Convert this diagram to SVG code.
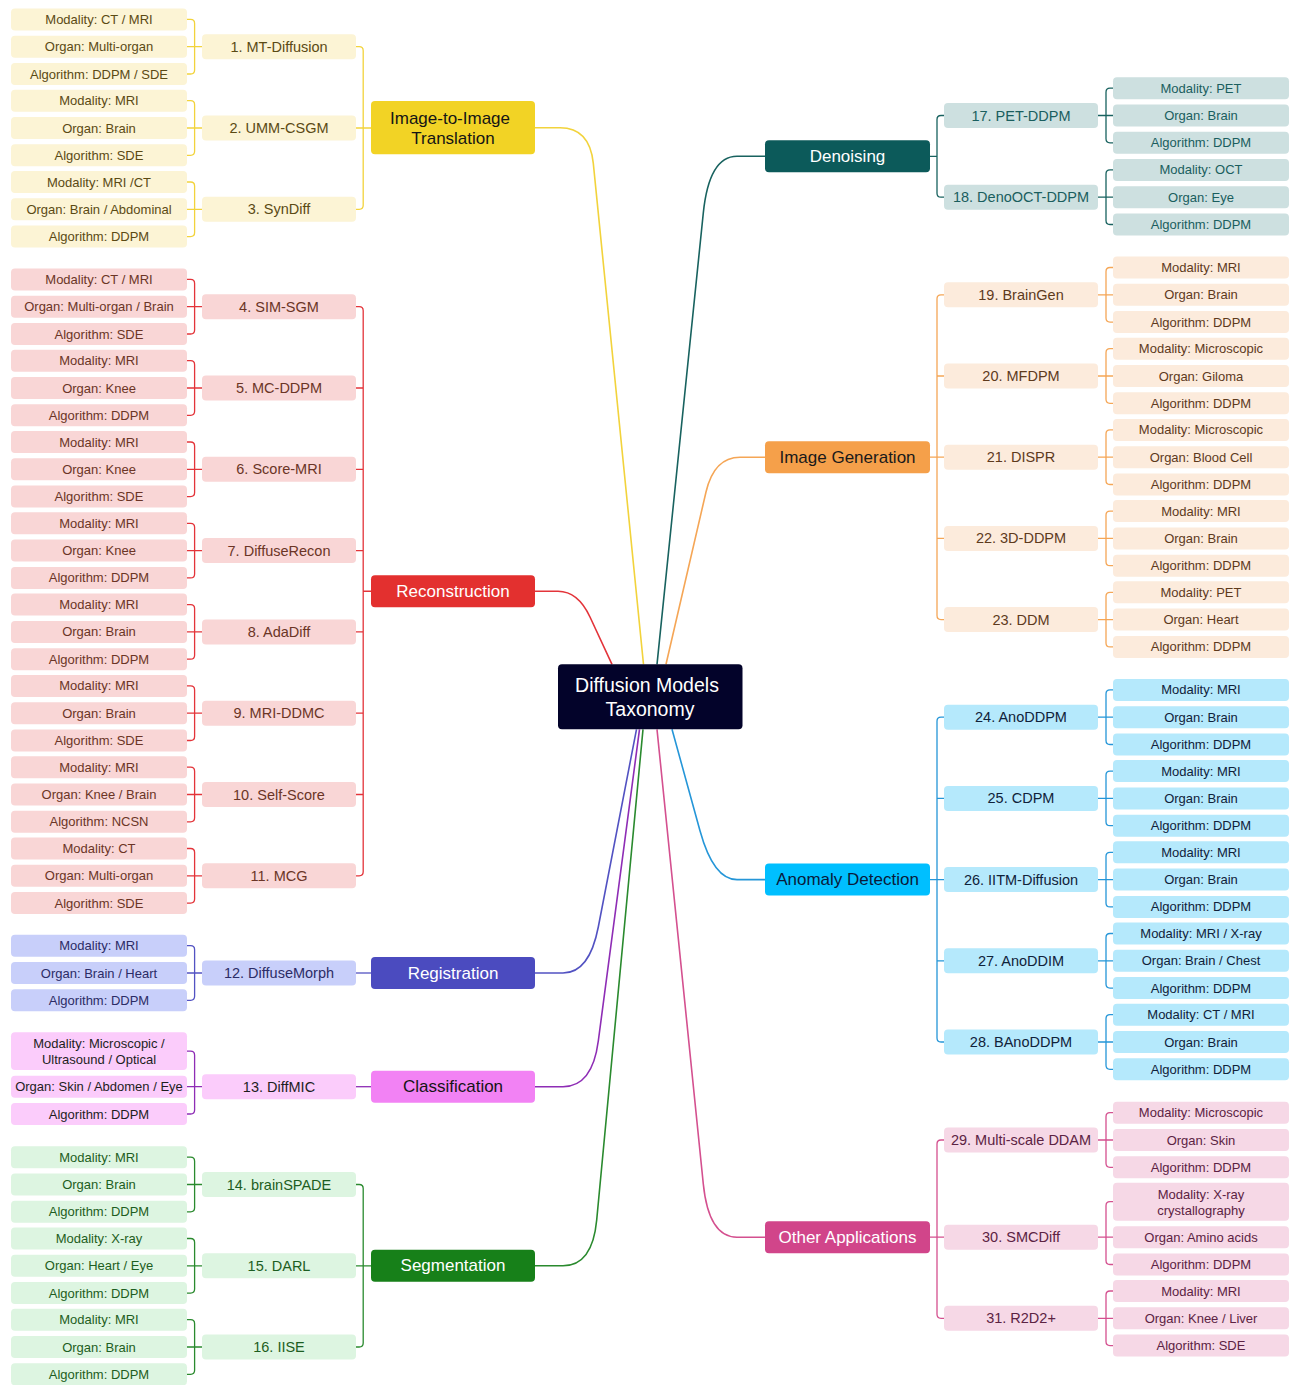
<svg xmlns="http://www.w3.org/2000/svg" width="1294" height="1385" viewBox="0 0 1294 1385">
<style>
text{font-family:"Liberation Sans",Arial,sans-serif;text-anchor:middle;dominant-baseline:central}
.lf text{font-size:13px}
.md text{font-size:14.5px}
.ct text{font-size:17px}
.cn text{font-size:19.5px;fill:#fff}
.cn rect{fill:#03032A}
.c path{fill:none;stroke-width:1.3}
.c .main path{stroke-width:1.6}
.y rect{fill:#FCF4D5}.y text{fill:#5B4A14}.ct.y rect{fill:#F2D325}.ct.y text{fill:#151515}
.r rect{fill:#F9D6D6}.r text{fill:#6B3526}.ct.r rect{fill:#E3302F}.ct.r text{fill:#fff}
.b rect{fill:#C8CFFA}.b text{fill:#2C2C66}.ct.b rect{fill:#4B4BBF}.ct.b text{fill:#fff}
.p rect{fill:#FBCCFB}.p text{fill:#1E1E1E}.ct.p rect{fill:#F282F4}.ct.p text{fill:#151515}
.g rect{fill:#DDF5E1}.g text{fill:#1D5E22}.ct.g rect{fill:#178019}.ct.g text{fill:#fff}
.t rect{fill:#CDE0E0}.t text{fill:#1A5E5E}.ct.t rect{fill:#0C5A5A}.ct.t text{fill:#fff}
.o rect{fill:#FCEBDC}.o text{fill:#5E3A1C}.ct.o rect{fill:#F5A04A}.ct.o text{fill:#1A1A1A}
.a rect{fill:#B5E9FC}.a text{fill:#10223A}.ct.a rect{fill:#00BFFF}.ct.a text{fill:#0A1A3A}
.k rect{fill:#F6D8E6}.k text{fill:#5C2343}.ct.k rect{fill:#D1458A}.ct.k text{fill:#fff}
.sy{stroke:#F2D33C}.sr{stroke:#E3343A}.sb{stroke:#5252C2}.sp{stroke:#8E2DB5}.sg{stroke:#2A8A2E}
.st{stroke:#18625F}.so{stroke:#F5A656}.sa{stroke:#2596D8}.sk{stroke:#D4508F}
</style>

<g id="connectors" class="c">
 <g class="main">
  <path class="sy" d="M535,127.7H560Q589.7,127.7 593.3,163.3L643.5,664.3"/>
  <path class="sr" d="M535,591.25H558Q578,591.25 590,617L612,664.3"/>
  <path class="sb" d="M535,973H563Q589.4,973 598.3,927L636.5,729.3"/>
  <path class="sp" d="M535,1086.7H563Q592.3,1086.7 598.3,1041L639.5,729.3"/>
  <path class="sg" d="M535,1265.8H563Q592.4,1265.8 596.7,1220L643,729.3"/>
  <path class="st" d="M765,156.3H737Q709.1,156.3 703.3,213L657,664.3"/>
  <path class="so" d="M765,457.2H740Q714.1,457.2 706,492L666,664.3"/>
  <path class="sa" d="M765,879.6H737Q713.5,879.6 700,830.7L672,729.3"/>
  <path class="sk" d="M765,1237.2H737Q708.7,1237.2 703.3,1184L657,729.3"/>
 </g>
 <path class="sy" d="M356,46.7H359.2Q363.2,46.7 363.2,50.7V205.3Q363.2,209.3 359.2,209.3H356M356,128H371"/>
 <path class="sr" d="M356,306.7H359.2Q363.2,306.7 363.2,310.7V871.8Q363.2,875.8 359.2,875.8H356M356,388H363.2M356,469.3H363.2M356,550.6H363.2M356,631.9H363.2M356,713.2H363.2M356,794.5H363.2M363.2,591.25H371"/>
 <path class="sb" d="M356,973H371"/>
 <path class="sp" d="M356,1086.7H371"/>
 <path class="sg" d="M356,1184.5H359.2Q363.2,1184.5 363.2,1188.5V1343Q363.2,1347 359.2,1347H356M356,1265.8H371"/>
 <path class="st" d="M944,115.5H941Q937,115.5 937,119.5V193.2Q937,197.2 941,197.2H944M930,156.3H937"/>
 <path class="so" d="M944,294.8H941Q937,294.8 937,298.8V615.6Q937,619.6 941,619.6H944M937,376H944M937,538.4H944M930,457.2H944"/>
 <path class="sa" d="M944,717.2H941Q937,717.2 937,721.2V1038Q937,1042 941,1042H944M937,798.4H944M937,960.8H944M930,879.6H944"/>
 <path class="sk" d="M944,1140H941Q937,1140 937,1144V1314.3Q937,1318.3 941,1318.3H944M930,1237.2H944"/>
 <path class="sy" d="M187,19.4H190.6Q194.6,19.4 194.6,23.4V70Q194.6,74 190.6,74H187M187,46.7H202"/>
 <path class="sy" d="M187,100.7H190.6Q194.6,100.7 194.6,104.7V151.3Q194.6,155.3 190.6,155.3H187M187,128H202"/>
 <path class="sy" d="M187,182H190.6Q194.6,182 194.6,186V232.6Q194.6,236.6 190.6,236.6H187M187,209.3H202"/>
 <path class="sr" d="M187,279.4H190.6Q194.6,279.4 194.6,283.4V330Q194.6,334 190.6,334H187M187,306.7H202"/>
 <path class="sr" d="M187,360.7H190.6Q194.6,360.7 194.6,364.7V411.3Q194.6,415.3 190.6,415.3H187M187,388H202"/>
 <path class="sr" d="M187,442H190.6Q194.6,442 194.6,446V492.6Q194.6,496.6 190.6,496.6H187M187,469.3H202"/>
 <path class="sr" d="M187,523.3H190.6Q194.6,523.3 194.6,527.3V573.9Q194.6,577.9 190.6,577.9H187M187,550.6H202"/>
 <path class="sr" d="M187,604.6H190.6Q194.6,604.6 194.6,608.6V655.2Q194.6,659.2 190.6,659.2H187M187,631.9H202"/>
 <path class="sr" d="M187,685.9H190.6Q194.6,685.9 194.6,689.9V736.5Q194.6,740.5 190.6,740.5H187M187,713.2H202"/>
 <path class="sr" d="M187,767.2H190.6Q194.6,767.2 194.6,771.2V817.8Q194.6,821.8 190.6,821.8H187M187,794.5H202"/>
 <path class="sr" d="M187,848.5H190.6Q194.6,848.5 194.6,852.5V899.1Q194.6,903.1 190.6,903.1H187M187,875.8H202"/>
 <path class="sb" d="M187,945.7H190.6Q194.6,945.7 194.6,949.7V996.3Q194.6,1000.3 190.6,1000.3H187M187,973H202"/>
 <path class="sp" d="M187,1051.2H190.6Q194.6,1051.2 194.6,1055.2V1110Q194.6,1114 190.6,1114H187M187,1086.7H202"/>
 <path class="sg" d="M187,1157.2H190.6Q194.6,1157.2 194.6,1161.2V1207.8Q194.6,1211.8 190.6,1211.8H187M187,1184.5H202"/>
 <path class="sg" d="M187,1238.5H190.6Q194.6,1238.5 194.6,1242.5V1289.1Q194.6,1293.1 190.6,1293.1H187M187,1265.8H202"/>
 <path class="sg" d="M187,1319.7H190.6Q194.6,1319.7 194.6,1323.7V1370.3Q194.6,1374.3 190.6,1374.3H187M187,1347H202"/>
 <path class="st" d="M1113,88.2H1110Q1106,88.2 1106,92.2V138.8Q1106,142.8 1110,142.8H1113M1098,115.5H1113"/>
 <path class="st" d="M1113,169.9H1110Q1106,169.9 1106,173.9V220.5Q1106,224.5 1110,224.5H1113M1098,197.2H1113"/>
 <path class="so" d="M1113,267.5H1110Q1106,267.5 1106,271.5V318.1Q1106,322.1 1110,322.1H1113M1098,294.8H1113"/>
 <path class="so" d="M1113,348.7H1110Q1106,348.7 1106,352.7V399.3Q1106,403.3 1110,403.3H1113M1098,376H1113"/>
 <path class="so" d="M1113,429.9H1110Q1106,429.9 1106,433.9V480.5Q1106,484.5 1110,484.5H1113M1098,457.2H1113"/>
 <path class="so" d="M1113,511.1H1110Q1106,511.1 1106,515.1V561.7Q1106,565.7 1110,565.7H1113M1098,538.4H1113"/>
 <path class="so" d="M1113,592.3H1110Q1106,592.3 1106,596.3V642.9Q1106,646.9 1110,646.9H1113M1098,619.6H1113"/>
 <path class="sa" d="M1113,689.9H1110Q1106,689.9 1106,693.9V740.5Q1106,744.5 1110,744.5H1113M1098,717.2H1113"/>
 <path class="sa" d="M1113,771.1H1110Q1106,771.1 1106,775.1V821.7Q1106,825.7 1110,825.7H1113M1098,798.4H1113"/>
 <path class="sa" d="M1113,852.3H1110Q1106,852.3 1106,856.3V902.9Q1106,906.9 1110,906.9H1113M1098,879.6H1113"/>
 <path class="sa" d="M1113,933.5H1110Q1106,933.5 1106,937.5V984.1Q1106,988.1 1110,988.1H1113M1098,960.8H1113"/>
 <path class="sa" d="M1113,1014.7H1110Q1106,1014.7 1106,1018.7V1065.3Q1106,1069.3 1110,1069.3H1113M1098,1042H1113"/>
 <path class="sk" d="M1113,1112.7H1110Q1106,1112.7 1106,1116.7V1163.3Q1106,1167.3 1110,1167.3H1113M1098,1140H1113"/>
 <path class="sk" d="M1113,1201.7H1110Q1106,1201.7 1106,1205.7V1260.5Q1106,1264.5 1110,1264.5H1113M1098,1237.2H1113"/>
 <path class="sk" d="M1113,1291H1110Q1106,1291 1106,1295V1341.6Q1106,1345.6 1110,1345.6H1113M1098,1318.3H1113"/>
</g>

<g id="center" class="cn"><rect x="558" y="664.3" width="184.5" height="65" rx="4"/><text x="647" y="684.5">Diffusion Models</text><text x="650" y="708.5">Taxonomy</text></g>

<!-- categories -->
<g id="cat-i2i" class="ct y"><rect x="371" y="101" width="164" height="53.3" rx="4"/><text x="450" y="118">Image-to-Image</text><text x="453" y="138">Translation</text></g>
<g id="cat-recon" class="ct r"><rect x="371" y="575.25" width="164" height="32" rx="4"/><text x="453" y="591.25">Reconstruction</text></g>
<g id="cat-reg" class="ct b"><rect x="371" y="957" width="164" height="32" rx="4"/><text x="453" y="973">Registration</text></g>
<g id="cat-cls" class="ct p"><rect x="371" y="1070.7" width="164" height="32" rx="4"/><text x="453" y="1086.7">Classification</text></g>
<g id="cat-seg" class="ct g"><rect x="371" y="1249.8" width="164" height="32" rx="4"/><text x="453" y="1265.8">Segmentation</text></g>
<g id="cat-den" class="ct t"><rect x="765" y="140.3" width="165" height="32" rx="4"/><text x="847.5" y="156.3">Denoising</text></g>
<g id="cat-gen" class="ct o"><rect x="765" y="441.2" width="165" height="32" rx="4"/><text x="847.5" y="457.2">Image Generation</text></g>
<g id="cat-ano" class="ct a"><rect x="765" y="863.6" width="165" height="32" rx="4"/><text x="847.5" y="879.6">Anomaly Detection</text></g>
<g id="cat-oth" class="ct k"><rect x="765" y="1221.2" width="165" height="32" rx="4"/><text x="847.5" y="1237.2">Other Applications</text></g>

<!-- left methods -->
<g id="m1" class="md y"><rect x="202" y="34.2" width="154" height="25" rx="4"/><text x="279" y="46.7">1. MT-Diffusion</text></g>
<g id="m2" class="md y"><rect x="202" y="115.5" width="154" height="25" rx="4"/><text x="279" y="128">2. UMM-CSGM</text></g>
<g id="m3" class="md y"><rect x="202" y="196.8" width="154" height="25" rx="4"/><text x="279" y="209.3">3. SynDiff</text></g>
<g id="m4" class="md r"><rect x="202" y="294.2" width="154" height="25" rx="4"/><text x="279" y="306.7">4. SIM-SGM</text></g>
<g id="m5" class="md r"><rect x="202" y="375.5" width="154" height="25" rx="4"/><text x="279" y="388">5. MC-DDPM</text></g>
<g id="m6" class="md r"><rect x="202" y="456.8" width="154" height="25" rx="4"/><text x="279" y="469.3">6. Score-MRI</text></g>
<g id="m7" class="md r"><rect x="202" y="538.1" width="154" height="25" rx="4"/><text x="279" y="550.6">7. DiffuseRecon</text></g>
<g id="m8" class="md r"><rect x="202" y="619.4" width="154" height="25" rx="4"/><text x="279" y="631.9">8. AdaDiff</text></g>
<g id="m9" class="md r"><rect x="202" y="700.7" width="154" height="25" rx="4"/><text x="279" y="713.2">9. MRI-DDMC</text></g>
<g id="m10" class="md r"><rect x="202" y="782" width="154" height="25" rx="4"/><text x="279" y="794.5">10. Self-Score</text></g>
<g id="m11" class="md r"><rect x="202" y="863.3" width="154" height="25" rx="4"/><text x="279" y="875.8">11. MCG</text></g>
<g id="m12" class="md b"><rect x="202" y="960.5" width="154" height="25" rx="4"/><text x="279" y="973">12. DiffuseMorph</text></g>
<g id="m13" class="md p"><rect x="202" y="1074.2" width="154" height="25" rx="4"/><text x="279" y="1086.7">13. DiffMIC</text></g>
<g id="m14" class="md g"><rect x="202" y="1172" width="154" height="25" rx="4"/><text x="279" y="1184.5">14. brainSPADE</text></g>
<g id="m15" class="md g"><rect x="202" y="1253.3" width="154" height="25" rx="4"/><text x="279" y="1265.8">15. DARL</text></g>
<g id="m16" class="md g"><rect x="202" y="1334.5" width="154" height="25" rx="4"/><text x="279" y="1347">16. IISE</text></g>

<!-- right methods -->
<g id="m17" class="md t"><rect x="944" y="103" width="154" height="25" rx="4"/><text x="1021" y="115.5">17. PET-DDPM</text></g>
<g id="m18" class="md t"><rect x="944" y="184.7" width="154" height="25" rx="4"/><text x="1021" y="197.2">18. DenoOCT-DDPM</text></g>
<g id="m19" class="md o"><rect x="944" y="282.3" width="154" height="25" rx="4"/><text x="1021" y="294.8">19. BrainGen</text></g>
<g id="m20" class="md o"><rect x="944" y="363.5" width="154" height="25" rx="4"/><text x="1021" y="376">20. MFDPM</text></g>
<g id="m21" class="md o"><rect x="944" y="444.7" width="154" height="25" rx="4"/><text x="1021" y="457.2">21. DISPR</text></g>
<g id="m22" class="md o"><rect x="944" y="525.9" width="154" height="25" rx="4"/><text x="1021" y="538.4">22. 3D-DDPM</text></g>
<g id="m23" class="md o"><rect x="944" y="607.1" width="154" height="25" rx="4"/><text x="1021" y="619.6">23. DDM</text></g>
<g id="m24" class="md a"><rect x="944" y="704.7" width="154" height="25" rx="4"/><text x="1021" y="717.2">24. AnoDDPM</text></g>
<g id="m25" class="md a"><rect x="944" y="785.9" width="154" height="25" rx="4"/><text x="1021" y="798.4">25. CDPM</text></g>
<g id="m26" class="md a"><rect x="944" y="867.1" width="154" height="25" rx="4"/><text x="1021" y="879.6">26. IITM-Diffusion</text></g>
<g id="m27" class="md a"><rect x="944" y="948.3" width="154" height="25" rx="4"/><text x="1021" y="960.8">27. AnoDDIM</text></g>
<g id="m28" class="md a"><rect x="944" y="1029.5" width="154" height="25" rx="4"/><text x="1021" y="1042">28. BAnoDDPM</text></g>
<g id="m29" class="md k"><rect x="944" y="1127.5" width="154" height="25" rx="4"/><text x="1021" y="1140">29. Multi-scale DDAM</text></g>
<g id="m30" class="md k"><rect x="944" y="1224.7" width="154" height="25" rx="4"/><text x="1021" y="1237.2">30. SMCDiff</text></g>
<g id="m31" class="md k"><rect x="944" y="1305.8" width="154" height="25" rx="4"/><text x="1021" y="1318.3">31. R2D2+</text></g>

<!-- left leaves -->
<g id="l1a" class="lf y"><rect x="11" y="8.4" width="176" height="22" rx="4"/><text x="99" y="19.4">Modality: CT / MRI</text></g>
<g id="l1b" class="lf y"><rect x="11" y="35.7" width="176" height="22" rx="4"/><text x="99" y="46.7">Organ: Multi-organ</text></g>
<g id="l1c" class="lf y"><rect x="11" y="63" width="176" height="22" rx="4"/><text x="99" y="74">Algorithm: DDPM / SDE</text></g>
<g id="l2a" class="lf y"><rect x="11" y="89.7" width="176" height="22" rx="4"/><text x="99" y="100.7">Modality: MRI</text></g>
<g id="l2b" class="lf y"><rect x="11" y="117" width="176" height="22" rx="4"/><text x="99" y="128">Organ: Brain</text></g>
<g id="l2c" class="lf y"><rect x="11" y="144.3" width="176" height="22" rx="4"/><text x="99" y="155.3">Algorithm: SDE</text></g>
<g id="l3a" class="lf y"><rect x="11" y="171" width="176" height="22" rx="4"/><text x="99" y="182">Modality: MRI /CT</text></g>
<g id="l3b" class="lf y"><rect x="11" y="198.3" width="176" height="22" rx="4"/><text x="99" y="209.3">Organ: Brain / Abdominal</text></g>
<g id="l3c" class="lf y"><rect x="11" y="225.6" width="176" height="22" rx="4"/><text x="99" y="236.6">Algorithm: DDPM</text></g>
<g id="l4a" class="lf r"><rect x="11" y="268.4" width="176" height="22" rx="4"/><text x="99" y="279.4">Modality: CT / MRI</text></g>
<g id="l4b" class="lf r"><rect x="11" y="295.7" width="176" height="22" rx="4"/><text x="99" y="306.7">Organ: Multi-organ / Brain</text></g>
<g id="l4c" class="lf r"><rect x="11" y="323" width="176" height="22" rx="4"/><text x="99" y="334">Algorithm: SDE</text></g>
<g id="l5a" class="lf r"><rect x="11" y="349.7" width="176" height="22" rx="4"/><text x="99" y="360.7">Modality: MRI</text></g>
<g id="l5b" class="lf r"><rect x="11" y="377" width="176" height="22" rx="4"/><text x="99" y="388">Organ: Knee</text></g>
<g id="l5c" class="lf r"><rect x="11" y="404.3" width="176" height="22" rx="4"/><text x="99" y="415.3">Algorithm: DDPM</text></g>
<g id="l6a" class="lf r"><rect x="11" y="431" width="176" height="22" rx="4"/><text x="99" y="442">Modality: MRI</text></g>
<g id="l6b" class="lf r"><rect x="11" y="458.3" width="176" height="22" rx="4"/><text x="99" y="469.3">Organ: Knee</text></g>
<g id="l6c" class="lf r"><rect x="11" y="485.6" width="176" height="22" rx="4"/><text x="99" y="496.6">Algorithm: SDE</text></g>
<g id="l7a" class="lf r"><rect x="11" y="512.3" width="176" height="22" rx="4"/><text x="99" y="523.3">Modality: MRI</text></g>
<g id="l7b" class="lf r"><rect x="11" y="539.6" width="176" height="22" rx="4"/><text x="99" y="550.6">Organ: Knee</text></g>
<g id="l7c" class="lf r"><rect x="11" y="566.9" width="176" height="22" rx="4"/><text x="99" y="577.9">Algorithm: DDPM</text></g>
<g id="l8a" class="lf r"><rect x="11" y="593.6" width="176" height="22" rx="4"/><text x="99" y="604.6">Modality: MRI</text></g>
<g id="l8b" class="lf r"><rect x="11" y="620.9" width="176" height="22" rx="4"/><text x="99" y="631.9">Organ: Brain</text></g>
<g id="l8c" class="lf r"><rect x="11" y="648.2" width="176" height="22" rx="4"/><text x="99" y="659.2">Algorithm: DDPM</text></g>
<g id="l9a" class="lf r"><rect x="11" y="674.9" width="176" height="22" rx="4"/><text x="99" y="685.9">Modality: MRI</text></g>
<g id="l9b" class="lf r"><rect x="11" y="702.2" width="176" height="22" rx="4"/><text x="99" y="713.2">Organ: Brain</text></g>
<g id="l9c" class="lf r"><rect x="11" y="729.5" width="176" height="22" rx="4"/><text x="99" y="740.5">Algorithm: SDE</text></g>
<g id="l10a" class="lf r"><rect x="11" y="756.2" width="176" height="22" rx="4"/><text x="99" y="767.2">Modality: MRI</text></g>
<g id="l10b" class="lf r"><rect x="11" y="783.5" width="176" height="22" rx="4"/><text x="99" y="794.5">Organ: Knee / Brain</text></g>
<g id="l10c" class="lf r"><rect x="11" y="810.8" width="176" height="22" rx="4"/><text x="99" y="821.8">Algorithm: NCSN</text></g>
<g id="l11a" class="lf r"><rect x="11" y="837.5" width="176" height="22" rx="4"/><text x="99" y="848.5">Modality: CT</text></g>
<g id="l11b" class="lf r"><rect x="11" y="864.8" width="176" height="22" rx="4"/><text x="99" y="875.8">Organ: Multi-organ</text></g>
<g id="l11c" class="lf r"><rect x="11" y="892.1" width="176" height="22" rx="4"/><text x="99" y="903.1">Algorithm: SDE</text></g>
<g id="l12a" class="lf b"><rect x="11" y="934.7" width="176" height="22" rx="4"/><text x="99" y="945.7">Modality: MRI</text></g>
<g id="l12b" class="lf b"><rect x="11" y="962" width="176" height="22" rx="4"/><text x="99" y="973">Organ: Brain / Heart</text></g>
<g id="l12c" class="lf b"><rect x="11" y="989.3" width="176" height="22" rx="4"/><text x="99" y="1000.3">Algorithm: DDPM</text></g>
<g id="l13a" class="lf p"><rect x="11" y="1032.3" width="176" height="37.7" rx="4"/><text x="99" y="1043.2">Modality: Microscopic /</text><text x="99" y="1059.2">Ultrasound / Optical</text></g>
<g id="l13b" class="lf p"><rect x="11" y="1075.7" width="176" height="22" rx="4"/><text x="99" y="1086.7">Organ: Skin / Abdomen / Eye</text></g>
<g id="l13c" class="lf p"><rect x="11" y="1103" width="176" height="22" rx="4"/><text x="99" y="1114">Algorithm: DDPM</text></g>
<g id="l14a" class="lf g"><rect x="11" y="1146.2" width="176" height="22" rx="4"/><text x="99" y="1157.2">Modality: MRI</text></g>
<g id="l14b" class="lf g"><rect x="11" y="1173.5" width="176" height="22" rx="4"/><text x="99" y="1184.5">Organ: Brain</text></g>
<g id="l14c" class="lf g"><rect x="11" y="1200.8" width="176" height="22" rx="4"/><text x="99" y="1211.8">Algorithm: DDPM</text></g>
<g id="l15a" class="lf g"><rect x="11" y="1227.5" width="176" height="22" rx="4"/><text x="99" y="1238.5">Modality: X-ray</text></g>
<g id="l15b" class="lf g"><rect x="11" y="1254.8" width="176" height="22" rx="4"/><text x="99" y="1265.8">Organ: Heart / Eye</text></g>
<g id="l15c" class="lf g"><rect x="11" y="1282.1" width="176" height="22" rx="4"/><text x="99" y="1293.1">Algorithm: DDPM</text></g>
<g id="l16a" class="lf g"><rect x="11" y="1308.7" width="176" height="22" rx="4"/><text x="99" y="1319.7">Modality: MRI</text></g>
<g id="l16b" class="lf g"><rect x="11" y="1336" width="176" height="22" rx="4"/><text x="99" y="1347">Organ: Brain</text></g>
<g id="l16c" class="lf g"><rect x="11" y="1363.3" width="176" height="22" rx="4"/><text x="99" y="1374.3">Algorithm: DDPM</text></g>

<!-- right leaves -->
<g id="l17a" class="lf t"><rect x="1113" y="77.2" width="176" height="22" rx="4"/><text x="1201" y="88.2">Modality: PET</text></g>
<g id="l17b" class="lf t"><rect x="1113" y="104.5" width="176" height="22" rx="4"/><text x="1201" y="115.5">Organ: Brain</text></g>
<g id="l17c" class="lf t"><rect x="1113" y="131.8" width="176" height="22" rx="4"/><text x="1201" y="142.8">Algorithm: DDPM</text></g>
<g id="l18a" class="lf t"><rect x="1113" y="158.9" width="176" height="22" rx="4"/><text x="1201" y="169.9">Modality: OCT</text></g>
<g id="l18b" class="lf t"><rect x="1113" y="186.2" width="176" height="22" rx="4"/><text x="1201" y="197.2">Organ: Eye</text></g>
<g id="l18c" class="lf t"><rect x="1113" y="213.5" width="176" height="22" rx="4"/><text x="1201" y="224.5">Algorithm: DDPM</text></g>
<g id="l19a" class="lf o"><rect x="1113" y="256.5" width="176" height="22" rx="4"/><text x="1201" y="267.5">Modality: MRI</text></g>
<g id="l19b" class="lf o"><rect x="1113" y="283.8" width="176" height="22" rx="4"/><text x="1201" y="294.8">Organ: Brain</text></g>
<g id="l19c" class="lf o"><rect x="1113" y="311.1" width="176" height="22" rx="4"/><text x="1201" y="322.1">Algorithm: DDPM</text></g>
<g id="l20a" class="lf o"><rect x="1113" y="337.7" width="176" height="22" rx="4"/><text x="1201" y="348.7">Modality: Microscopic</text></g>
<g id="l20b" class="lf o"><rect x="1113" y="365" width="176" height="22" rx="4"/><text x="1201" y="376">Organ: Giloma</text></g>
<g id="l20c" class="lf o"><rect x="1113" y="392.3" width="176" height="22" rx="4"/><text x="1201" y="403.3">Algorithm: DDPM</text></g>
<g id="l21a" class="lf o"><rect x="1113" y="418.9" width="176" height="22" rx="4"/><text x="1201" y="429.9">Modality: Microscopic</text></g>
<g id="l21b" class="lf o"><rect x="1113" y="446.2" width="176" height="22" rx="4"/><text x="1201" y="457.2">Organ: Blood Cell</text></g>
<g id="l21c" class="lf o"><rect x="1113" y="473.5" width="176" height="22" rx="4"/><text x="1201" y="484.5">Algorithm: DDPM</text></g>
<g id="l22a" class="lf o"><rect x="1113" y="500.1" width="176" height="22" rx="4"/><text x="1201" y="511.1">Modality: MRI</text></g>
<g id="l22b" class="lf o"><rect x="1113" y="527.4" width="176" height="22" rx="4"/><text x="1201" y="538.4">Organ: Brain</text></g>
<g id="l22c" class="lf o"><rect x="1113" y="554.7" width="176" height="22" rx="4"/><text x="1201" y="565.7">Algorithm: DDPM</text></g>
<g id="l23a" class="lf o"><rect x="1113" y="581.3" width="176" height="22" rx="4"/><text x="1201" y="592.3">Modality: PET</text></g>
<g id="l23b" class="lf o"><rect x="1113" y="608.6" width="176" height="22" rx="4"/><text x="1201" y="619.6">Organ: Heart</text></g>
<g id="l23c" class="lf o"><rect x="1113" y="635.9" width="176" height="22" rx="4"/><text x="1201" y="646.9">Algorithm: DDPM</text></g>
<g id="l24a" class="lf a"><rect x="1113" y="678.9" width="176" height="22" rx="4"/><text x="1201" y="689.9">Modality: MRI</text></g>
<g id="l24b" class="lf a"><rect x="1113" y="706.2" width="176" height="22" rx="4"/><text x="1201" y="717.2">Organ: Brain</text></g>
<g id="l24c" class="lf a"><rect x="1113" y="733.5" width="176" height="22" rx="4"/><text x="1201" y="744.5">Algorithm: DDPM</text></g>
<g id="l25a" class="lf a"><rect x="1113" y="760.1" width="176" height="22" rx="4"/><text x="1201" y="771.1">Modality: MRI</text></g>
<g id="l25b" class="lf a"><rect x="1113" y="787.4" width="176" height="22" rx="4"/><text x="1201" y="798.4">Organ: Brain</text></g>
<g id="l25c" class="lf a"><rect x="1113" y="814.7" width="176" height="22" rx="4"/><text x="1201" y="825.7">Algorithm: DDPM</text></g>
<g id="l26a" class="lf a"><rect x="1113" y="841.3" width="176" height="22" rx="4"/><text x="1201" y="852.3">Modality: MRI</text></g>
<g id="l26b" class="lf a"><rect x="1113" y="868.6" width="176" height="22" rx="4"/><text x="1201" y="879.6">Organ: Brain</text></g>
<g id="l26c" class="lf a"><rect x="1113" y="895.9" width="176" height="22" rx="4"/><text x="1201" y="906.9">Algorithm: DDPM</text></g>
<g id="l27a" class="lf a"><rect x="1113" y="922.5" width="176" height="22" rx="4"/><text x="1201" y="933.5">Modality: MRI / X-ray</text></g>
<g id="l27b" class="lf a"><rect x="1113" y="949.8" width="176" height="22" rx="4"/><text x="1201" y="960.8">Organ: Brain / Chest</text></g>
<g id="l27c" class="lf a"><rect x="1113" y="977.1" width="176" height="22" rx="4"/><text x="1201" y="988.1">Algorithm: DDPM</text></g>
<g id="l28a" class="lf a"><rect x="1113" y="1003.7" width="176" height="22" rx="4"/><text x="1201" y="1014.7">Modality: CT / MRI</text></g>
<g id="l28b" class="lf a"><rect x="1113" y="1031" width="176" height="22" rx="4"/><text x="1201" y="1042">Organ: Brain</text></g>
<g id="l28c" class="lf a"><rect x="1113" y="1058.3" width="176" height="22" rx="4"/><text x="1201" y="1069.3">Algorithm: DDPM</text></g>
<g id="l29a" class="lf k"><rect x="1113" y="1101.7" width="176" height="22" rx="4"/><text x="1201" y="1112.7">Modality: Microscopic</text></g>
<g id="l29b" class="lf k"><rect x="1113" y="1129" width="176" height="22" rx="4"/><text x="1201" y="1140">Organ: Skin</text></g>
<g id="l29c" class="lf k"><rect x="1113" y="1156.3" width="176" height="22" rx="4"/><text x="1201" y="1167.3">Algorithm: DDPM</text></g>
<g id="l30a" class="lf k"><rect x="1113" y="1182.7" width="176" height="38" rx="4"/><text x="1201" y="1194.2">Modality: X-ray</text><text x="1201" y="1210.2">crystallography</text></g>
<g id="l30b" class="lf k"><rect x="1113" y="1226.2" width="176" height="22" rx="4"/><text x="1201" y="1237.2">Organ: Amino acids</text></g>
<g id="l30c" class="lf k"><rect x="1113" y="1253.5" width="176" height="22" rx="4"/><text x="1201" y="1264.5">Algorithm: DDPM</text></g>
<g id="l31a" class="lf k"><rect x="1113" y="1280" width="176" height="22" rx="4"/><text x="1201" y="1291">Modality: MRI</text></g>
<g id="l31b" class="lf k"><rect x="1113" y="1307.3" width="176" height="22" rx="4"/><text x="1201" y="1318.3">Organ: Knee / Liver</text></g>
<g id="l31c" class="lf k"><rect x="1113" y="1334.6" width="176" height="22" rx="4"/><text x="1201" y="1345.6">Algorithm: SDE</text></g>
</svg>
